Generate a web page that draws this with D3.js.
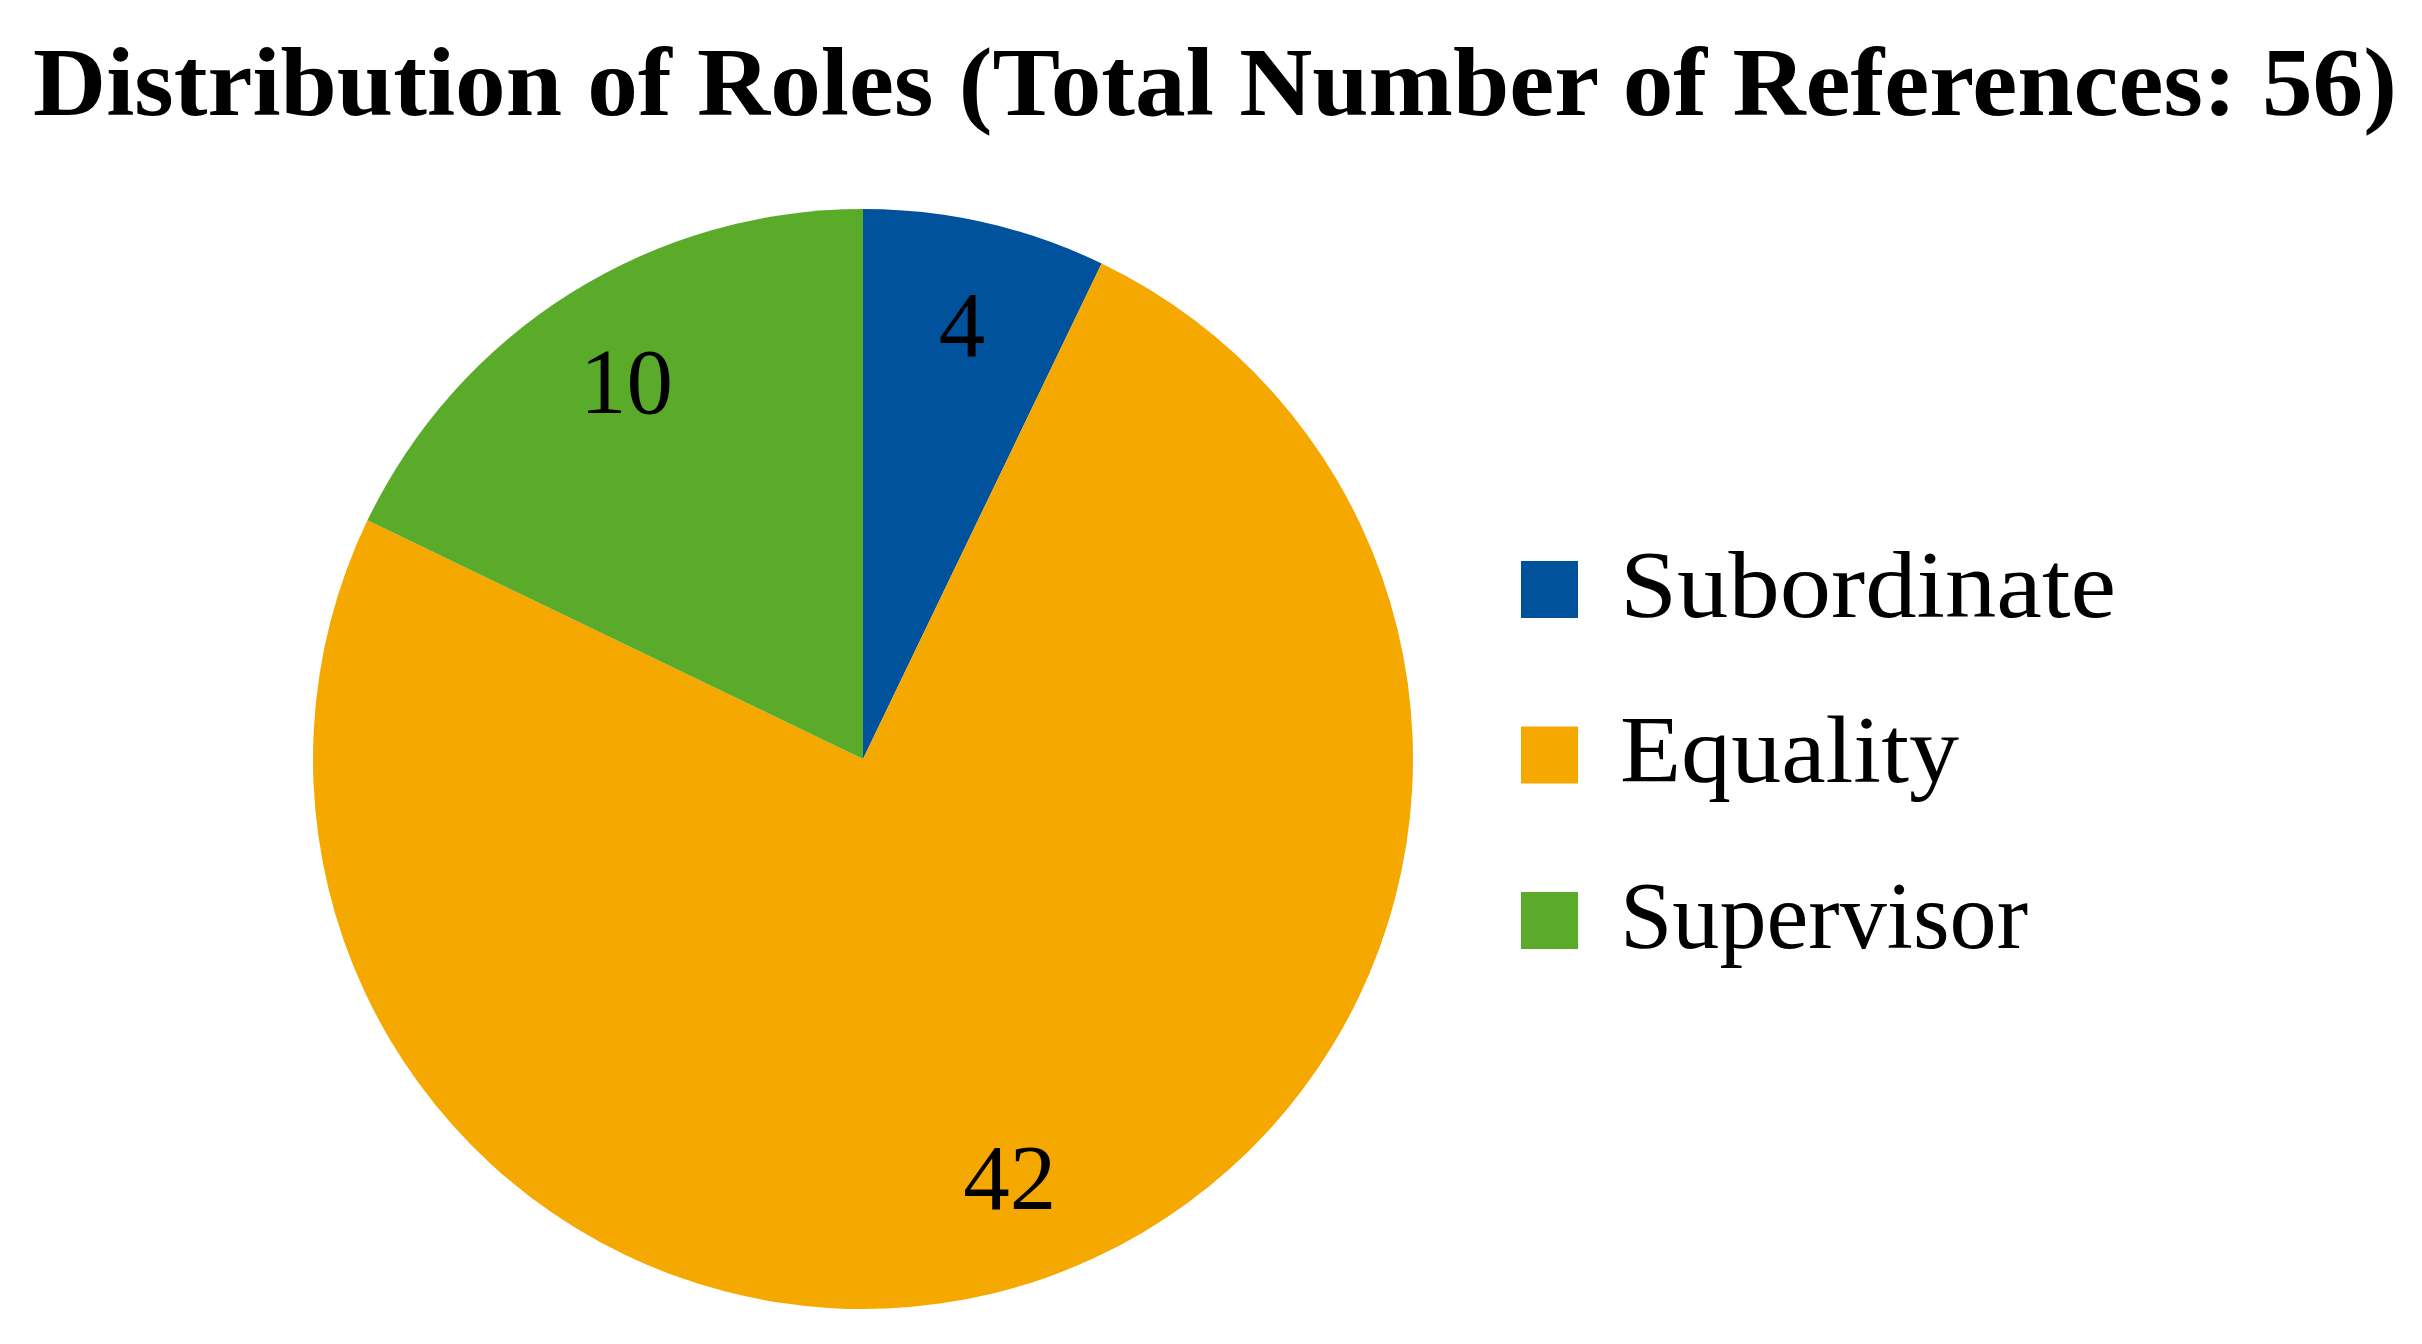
<!DOCTYPE html>
<html>
<head>
<meta charset="utf-8">
<script src="https://cdn.jsdelivr.net/npm/d3@7"></script>
<style>
  html, body { margin: 0; padding: 0; background: #ffffff; }
  svg { display: block; }
</style>
</head>
<body>
<script>
const categories = ["Subordinate", "Equality", "Supervisor"];
const values = [4, 42, 10];
const colors = ["#00529C", "#F5A800", "#5AAB29"];
const titleText = "Distribution of Roles (Total Number of References: 56)";

const W = 2422, H = 1344;
const fontFamily = "'Liberation Serif', 'DejaVu Serif', serif";
const svg = d3.select("body").append("svg").attr("width", W).attr("height", H);

// title
svg.append("text")
  .attr("x", 33).attr("y", 115)
  .attr("textLength", 2364).attr("lengthAdjust", "spacingAndGlyphs")
  .attr("font-family", fontFamily).attr("font-weight", "bold")
  .attr("font-size", 97).attr("fill", "#000")
  .text(titleText);

// pie
const cx = 863, cy = 759, R = 550;
const data = categories.map((c, i) => ({ name: c, value: values[i], color: colors[i] }));
const pie = d3.pie().value(d => d.value).sort(null);
const arcs = pie(data);
const arc = d3.arc().innerRadius(0).outerRadius(R);
const labelArc = d3.arc().innerRadius(R * 0.808).outerRadius(R * 0.808);

const g = svg.append("g").attr("transform", `translate(${cx},${cy})`);
g.selectAll("path.slice").data(arcs).enter().append("path")
  .attr("class", "slice")
  .attr("d", arc)
  .attr("fill", d => d.data.color);

const labelSize = 93;
g.selectAll("text.lbl").data(arcs).enter().append("text")
  .attr("class", "lbl")
  .attr("x", d => labelArc.centroid(d)[0])
  .attr("y", d => labelArc.centroid(d)[1] + labelSize * 0.33)
  .attr("text-anchor", "middle")
  .attr("font-family", fontFamily).attr("font-size", labelSize).attr("fill", "#000")
  .text(d => d.data.value);

// legend
const legX = 1521, legY0 = 561, legStep = 165.5, sw = 57;
const legendWidths = [496, 339, 408];
const leg = svg.append("g");
const items = leg.selectAll("g.item").data(data).enter().append("g")
  .attr("class", "item")
  .attr("transform", (d, i) => `translate(${legX},${legY0 + i * legStep})`);
items.append("rect").attr("width", sw).attr("height", sw).attr("fill", d => d.color);
items.append("text")
  .attr("x", 99).attr("y", sw / 2 + 27)
  .attr("textLength", (d, i) => legendWidths[i]).attr("lengthAdjust", "spacingAndGlyphs")
  .attr("font-family", fontFamily).attr("font-size", 95).attr("fill", "#000")
  .text(d => d.name);
</script>
</body>
</html>
